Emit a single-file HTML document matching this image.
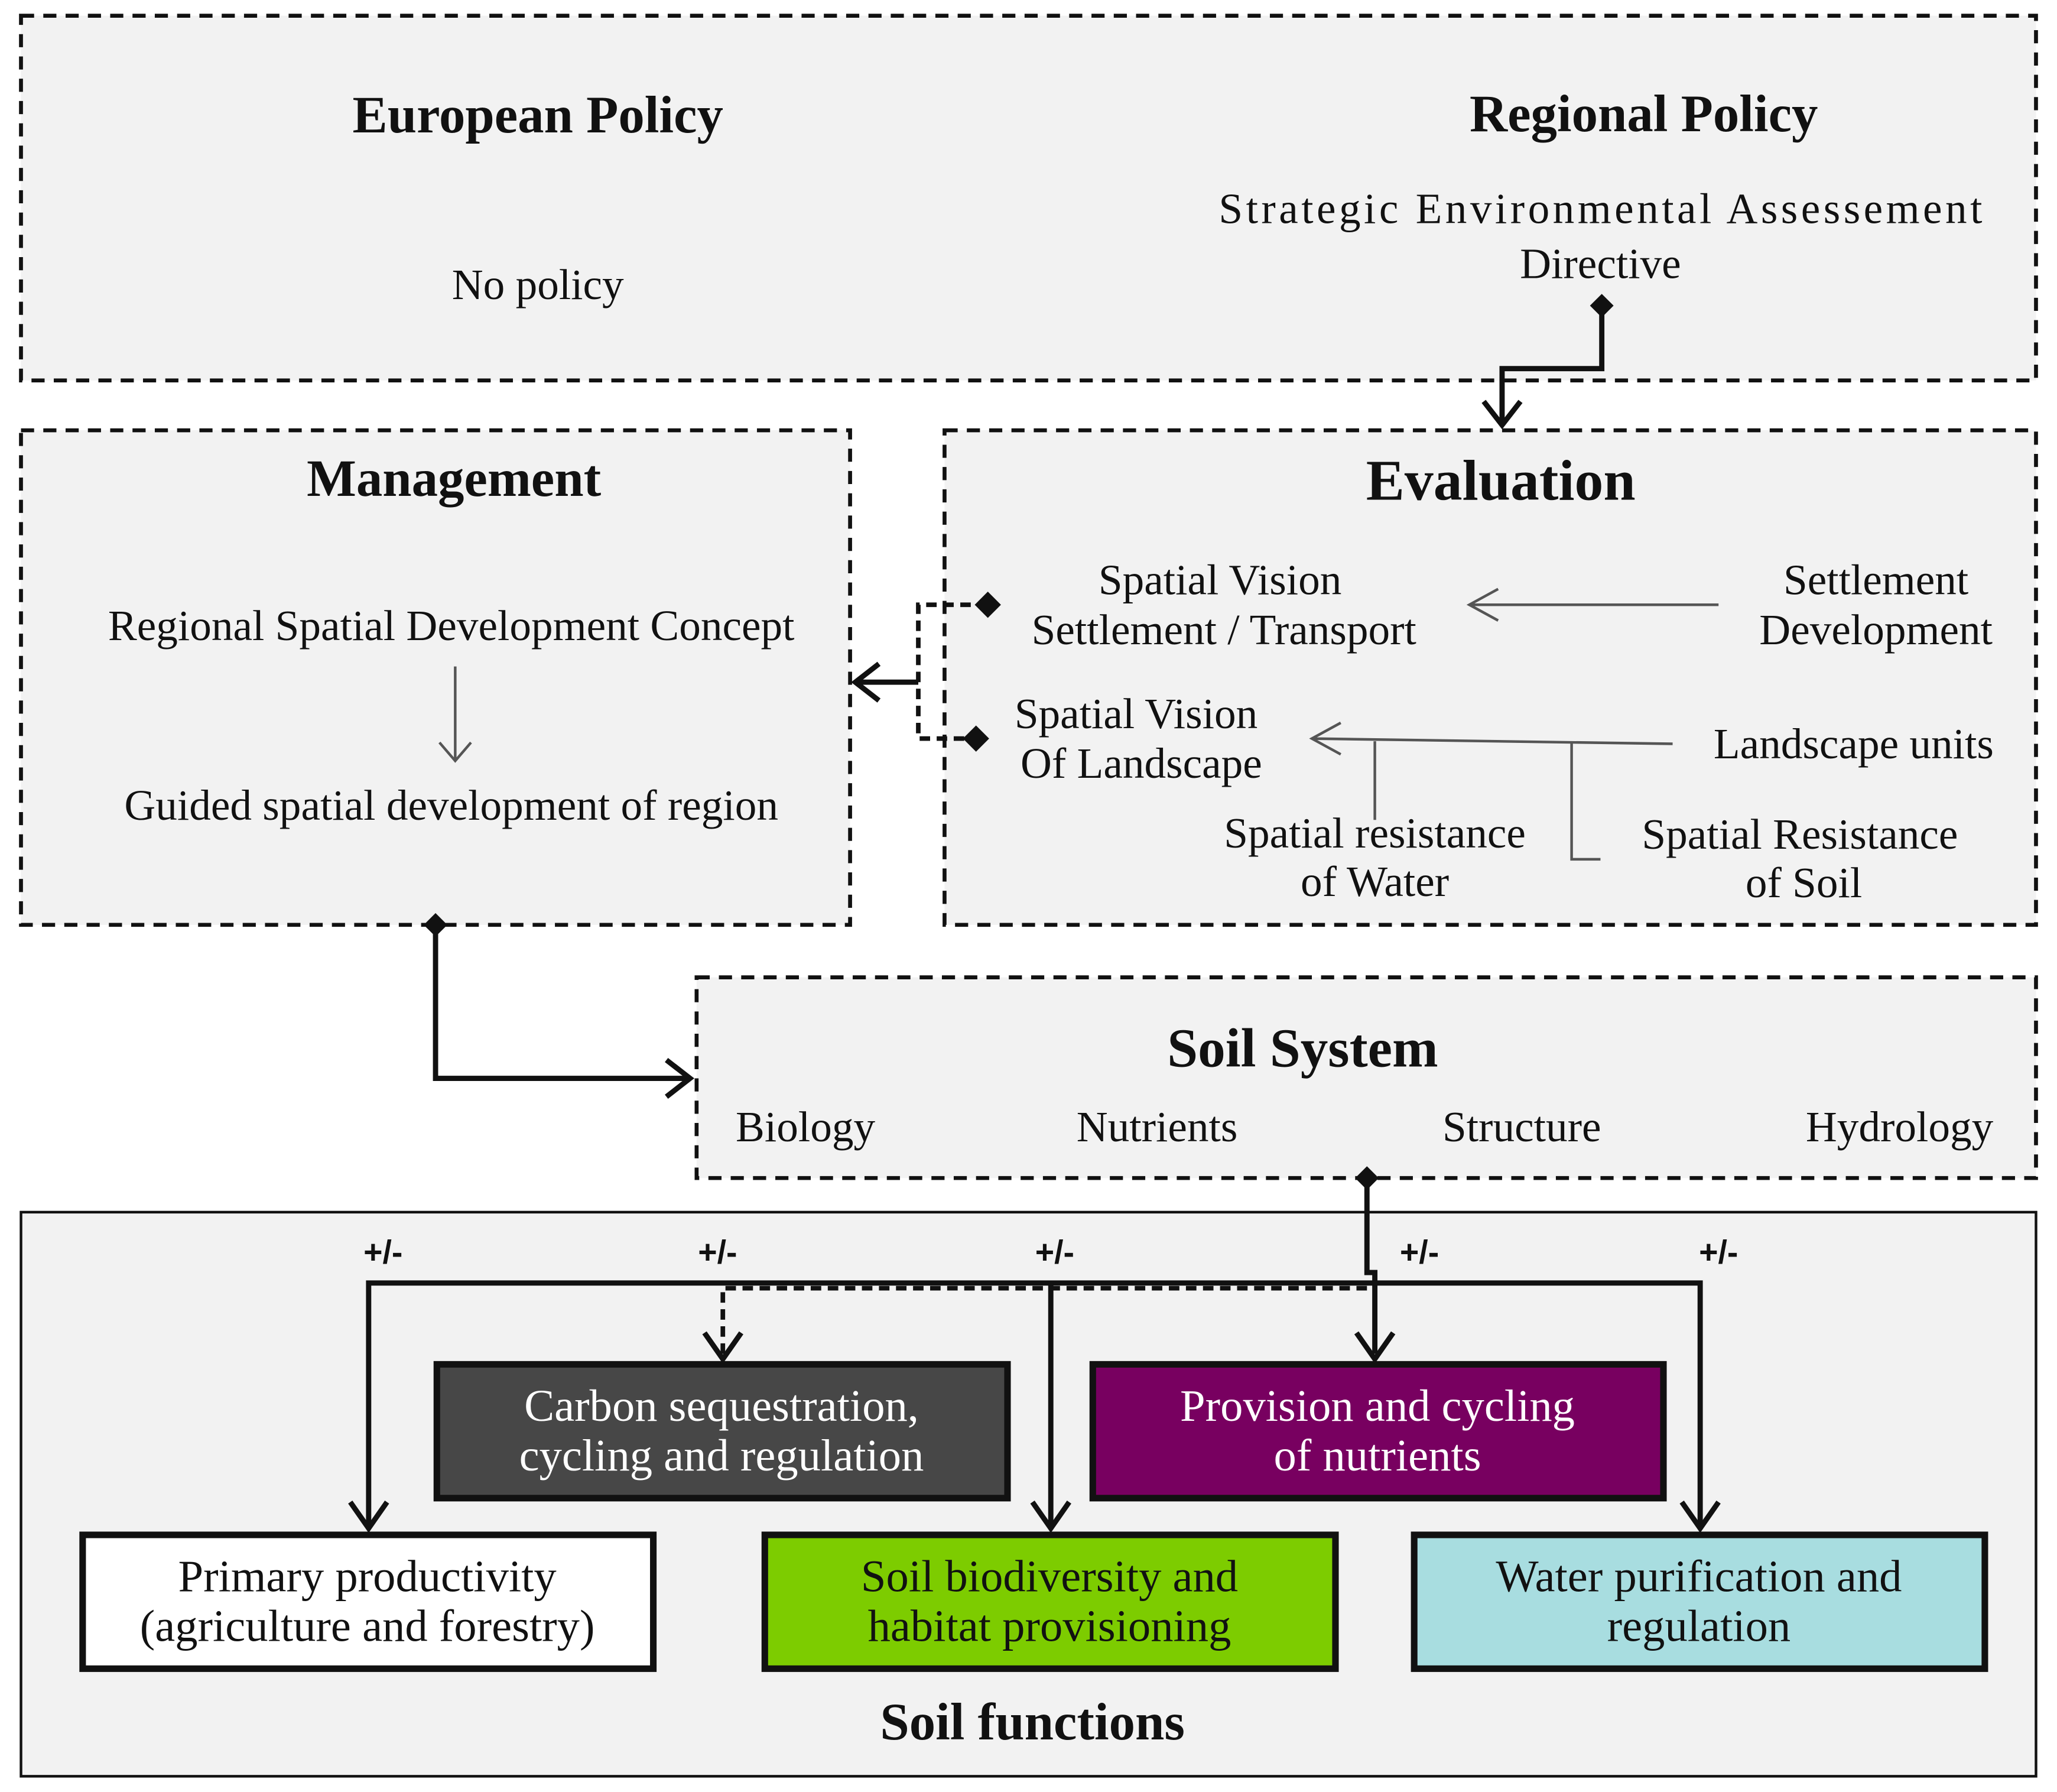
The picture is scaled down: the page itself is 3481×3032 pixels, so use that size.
<!DOCTYPE html>
<html><head><meta charset="utf-8"><style>
html,body{margin:0;padding:0;background:#fff}
svg{display:block}
text{font-family:"Liberation Serif",serif;fill:#111}
.b{font-weight:bold}
</style></head><body>
<svg width="3481" height="3032" viewBox="0 0 1568 1366" preserveAspectRatio="none" xmlns="http://www.w3.org/2000/svg">
<g stroke="#111" stroke-width="3" stroke-dasharray="10,7" fill="#f2f2f2">
<rect x="16" y="12" width="1536" height="278"/>
<rect x="16" y="328" width="632" height="377"/>
<rect x="720" y="328" width="832" height="377"/>
<rect x="531" y="745" width="1021" height="153"/>
</g>
<rect x="16" y="924" width="1536" height="430" fill="#f2f2f2" stroke="#111" stroke-width="2"/>

<g font-size="33" text-anchor="middle">
<text x="410" y="101" class="b" font-size="40">European Policy</text>
<text x="410" y="228">No policy</text>
<text x="1253" y="100" class="b" font-size="40">Regional Policy</text>
<text x="1220" y="170" textLength="582" lengthAdjust="spacing">Strategic Environmental  Assessement</text>
<text x="1220" y="212">Directive</text>
<text x="346" y="378" class="b" font-size="40">Management</text>
<text x="344" y="488">Regional Spatial Development Concept</text>
<text x="344" y="625">Guided spatial development of region</text>
<text x="1144" y="381" class="b" font-size="44">Evaluation</text>
<text x="930" y="453">Spatial Vision</text>
<text x="933" y="491">Settlement / Transport</text>
<text x="1430" y="453">Settlement</text>
<text x="1430" y="491">Development</text>
<text x="866" y="555">Spatial Vision</text>
<text x="870" y="593">Of Landscape</text>
<text x="1413" y="578">Landscape units</text>
<text x="1048" y="646">Spatial resistance</text>
<text x="1048" y="683">of Water</text>
<text x="1372" y="647">Spatial Resistance</text>
<text x="1375" y="684">of Soil</text>
<text x="993" y="813" class="b" font-size="42">Soil System</text>
<text x="614" y="870">Biology</text>
<text x="882" y="870">Nutrients</text>
<text x="1160" y="870">Structure</text>
<text x="1448" y="870">Hydrology</text>
<text x="787" y="1326" class="b" font-size="40">Soil functions</text>
</g>
<g font-size="25" text-anchor="middle">
<text x="292" y="963" class="b" style="font-family:'Liberation Sans',sans-serif">+/-</text>
<text x="547" y="963" class="b" style="font-family:'Liberation Sans',sans-serif">+/-</text>
<text x="804" y="963" class="b" style="font-family:'Liberation Sans',sans-serif">+/-</text>
<text x="1082" y="963" class="b" style="font-family:'Liberation Sans',sans-serif">+/-</text>
<text x="1310" y="963" class="b" style="font-family:'Liberation Sans',sans-serif">+/-</text>
</g>

<g stroke="#555" stroke-width="2" fill="none">
<path d="M347 508 V580 M335 566 L347 580 L359 566"/>
<path d="M1310 461 H1120 M1142 449 L1120 461 L1142 473"/>
<path d="M1275 567 L1000 563 M1022 551 L1000 563 L1022 575"/>
<path d="M1048 565 V625 M1198 565 V655 H1220"/>
</g>

<g stroke="#111" stroke-width="4" fill="none">
<path d="M1221 233 V281 H1145 V322"/>
<path d="M1131 306 L1145 324 L1159 306"/>
<path d="M332 705 V822 H524"/>
<path d="M508 808 L526 822 L508 836"/>
<path d="M700 520 H654 M670 506 L652 520 L670 534"/>
<path d="M1042 898 V970 H1048 V1032 M1034 1016 L1048 1036 L1062 1016"/>
<path d="M281 1165 V978 H1296 V1165"/>
<path d="M801 978 V1165"/>
<path d="M267 1145 L281 1165 L295 1145 M787 1145 L801 1165 L815 1145 M1282 1145 L1296 1165 L1310 1145"/>
<path d="M537 1016 L551 1036 L565 1016"/>
</g>
<g stroke="#111" stroke-width="3.5" fill="none" stroke-dasharray="8,5">
<path d="M753 461 H700 V563 H740"/>
<path d="M1042 982 H551 V1032"/>
</g>
<g fill="#111">
<path d="M1221 224 L1230 233 L1221 242 L1212 233Z"/>
<path d="M332 696 L341 705 L332 714 L323 705Z"/>
<path d="M1042 889 L1051 898 L1042 907 L1033 898Z"/>
<path d="M753 451 L763 461 L753 471 L743 461Z"/>
<path d="M744 553 L754 563 L744 573 L734 563Z"/>
</g>

<g stroke="#111" stroke-width="5">
<rect x="333" y="1040" width="435" height="102" fill="#474747"/>
<rect x="833" y="1040" width="435" height="102" fill="#780060"/>
<rect x="63" y="1170" width="435" height="102" fill="#fff"/>
<rect x="583" y="1170" width="435" height="102" fill="#7dcc00"/>
<rect x="1078" y="1170" width="435" height="102" fill="#a8dde0"/>
</g>
<g font-size="34.5" text-anchor="middle">
<text x="550" y="1083" style="fill:#fff">Carbon sequestration,</text>
<text x="550" y="1121" style="fill:#fff">cycling and regulation</text>
<text x="1050" y="1083" style="fill:#fff">Provision and cycling</text>
<text x="1050" y="1121" style="fill:#fff">of nutrients</text>
<text x="280" y="1213">Primary productivity</text>
<text x="280" y="1251">(agriculture and forestry)</text>
<text x="800" y="1213">Soil biodiversity and</text>
<text x="800" y="1251">habitat provisioning</text>
<text x="1295" y="1213">Water purification and</text>
<text x="1295" y="1251">regulation</text>
</g>
</svg>
</body></html>
